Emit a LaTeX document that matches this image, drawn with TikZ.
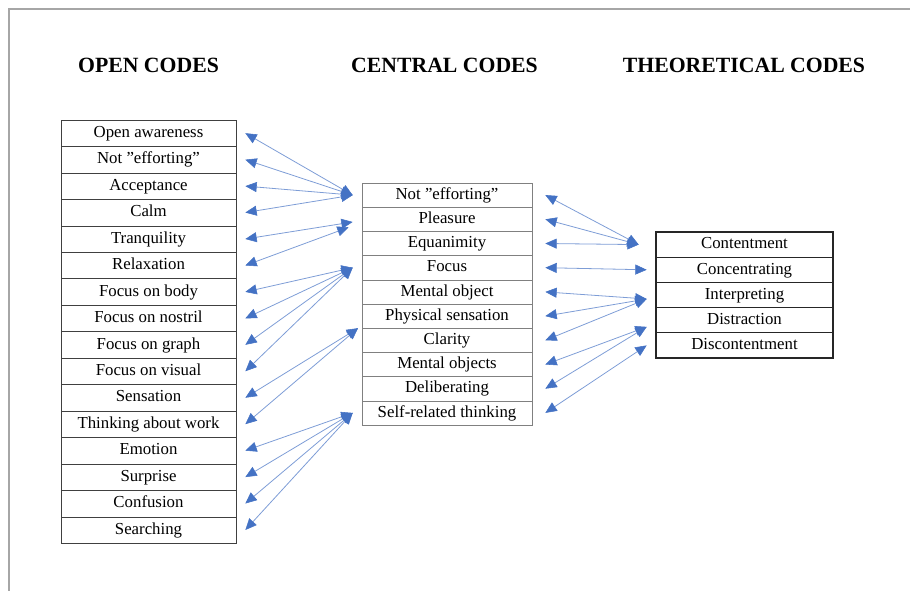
\documentclass[tikz,border=0pt]{standalone}
\usepackage{fontspec}
\setmainfont{Liberation Serif}
\usetikzlibrary{arrows.meta,positioning}

\definecolor{linkblue}{HTML}{4472C4}
\definecolor{linkline}{HTML}{7E9DD6}

\begin{document}
\begin{tikzpicture}[
x=0.75pt, y=-0.75pt,
codebox/.style={draw, outer sep=0pt, inner sep=0pt, text height=9.4pt, text depth=3pt,
  font=\fontsize{12.6}{15}\selectfont},
opencode/.style={codebox, draw=black!75, minimum width=131.25pt, minimum height=19.84pt},
centralcode/.style={codebox, draw=black!50, minimum width=127.5pt, minimum height=18.15pt},
theorycode/.style={codebox, draw=black!85, line width=0.9pt, minimum width=132.75pt, minimum height=18.9pt},
heading/.style={font=\bfseries\fontsize{16.3}{19}\selectfont},
link/.style={{Triangle[length=8.5pt,width=7.5pt,line width=0.4pt,color=linkblue,fill=linkblue]}-{Triangle[length=8.5pt,width=7.5pt,line width=0.4pt,color=linkblue,fill=linkblue]},
  draw=linkline, line width=0.6pt}
]
\useasboundingbox (0,0) rectangle (910,591);
\draw[black!35, line width=0.9pt] (910,9) -- (9,9) -- (9,591);

% headings
\node[heading] (h1) at (148.5,65) {OPEN CODES};
\node[heading] (h2) at (444.5,65) {CENTRAL CODES};
\node[heading] (h3) at (744,65) {THEORETICAL CODES};

% open codes
\node[opencode] (o1) at (148.5,133.2) {Open awareness};
\node[opencode, below=0pt of o1] (o2) {Not ”efforting”};
\node[opencode, below=0pt of o2] (o3) {Acceptance};
\node[opencode, below=0pt of o3] (o4) {Calm};
\node[opencode, below=0pt of o4] (o5) {Tranquility};
\node[opencode, below=0pt of o5] (o6) {Relaxation};
\node[opencode, below=0pt of o6] (o7) {Focus on body};
\node[opencode, below=0pt of o7] (o8) {Focus on nostril};
\node[opencode, below=0pt of o8] (o9) {Focus on graph};
\node[opencode, below=0pt of o9] (o10) {Focus on visual};
\node[opencode, below=0pt of o10] (o11) {Sensation};
\node[opencode, below=0pt of o11] (o12) {Thinking about work};
\node[opencode, below=0pt of o12] (o13) {Emotion};
\node[opencode, below=0pt of o13] (o14) {Surprise};
\node[opencode, below=0pt of o14] (o15) {Confusion};
\node[opencode, below=0pt of o15] (o16) {Searching};

% central codes
\node[centralcode] (c1) at (447,195.1) {Not ”efforting”};
\node[centralcode, below=0pt of c1] (c2) {Pleasure};
\node[centralcode, below=0pt of c2] (c3) {Equanimity};
\node[centralcode, below=0pt of c3] (c4) {Focus};
\node[centralcode, below=0pt of c4] (c5) {Mental object};
\node[centralcode, below=0pt of c5] (c6) {Physical sensation};
\node[centralcode, below=0pt of c6] (c7) {Clarity};
\node[centralcode, below=0pt of c7] (c8) {Mental objects};
\node[centralcode, below=0pt of c8] (c9) {Deliberating};
\node[centralcode, below=0pt of c9] (c10) {Self-related thinking};

% theoretical codes
\node[theorycode] (t1) at (744.5,244.6) {Contentment};
\node[theorycode, below=0pt of t1] (t2) {Concentrating};
\node[theorycode, below=0pt of t2] (t3) {Interpreting};
\node[theorycode, below=0pt of t3] (t4) {Distraction};
\node[theorycode, below=0pt of t4] (t5) {Discontentment};

% open -> central
\draw[link] ([xshift=7pt]o1.east) -- ([xshift=-7pt]c1.west);
\draw[link] ([xshift=7pt]o2.east) -- ([xshift=-7pt]c1.west);
\draw[link] ([xshift=7pt]o3.east) -- ([xshift=-7pt]c1.west);
\draw[link] ([xshift=7pt]o4.east) -- ([xshift=-7pt]c1.west);
\draw[link] ([xshift=7pt]o5.east) -- ([xshift=-7pt,yshift=-2pt]c2.west);
\draw[link] ([xshift=7pt]o6.east) -- ([xshift=-10pt,yshift=-6pt]c2.west);
\draw[link] ([xshift=7pt]o7.east) -- ([xshift=-7pt]c4.west);
\draw[link] ([xshift=7pt]o8.east) -- ([xshift=-7pt]c4.west);
\draw[link] ([xshift=7pt]o9.east) -- ([xshift=-7pt]c4.west);
\draw[link] ([xshift=7pt]o10.east) -- ([xshift=-7pt]c4.west);
\draw[link] ([xshift=7pt]o11.east) -- ([xshift=-3pt]c6.south west);
\draw[link] ([xshift=7pt]o12.east) -- ([xshift=-3pt]c6.south west);
\draw[link] ([xshift=7pt]o13.east) -- ([xshift=-7pt]c10.west);
\draw[link] ([xshift=7pt]o14.east) -- ([xshift=-7pt]c10.west);
\draw[link] ([xshift=7pt]o15.east) -- ([xshift=-7pt]c10.west);
\draw[link] ([xshift=7pt]o16.east) -- ([xshift=-7pt]c10.west);

% central -> theoretical
\draw[link] ([xshift=10pt]c1.east) -- ([xshift=-13pt]t1.west);
\draw[link] ([xshift=10pt]c2.east) -- ([xshift=-13pt]t1.west);
\draw[link] ([xshift=10pt]c3.east) -- ([xshift=-13pt]t1.west);
\draw[link] ([xshift=10pt]c4.east) -- ([xshift=-7pt]t2.west);
\draw[link] ([xshift=10pt]c5.east) -- ([xshift=-7pt,yshift=-3pt]t3.west);
\draw[link] ([xshift=10pt]c6.east) -- ([xshift=-7pt,yshift=-3pt]t3.west);
\draw[link] ([xshift=10pt]c7.east) -- ([xshift=-7pt,yshift=-3pt]t3.west);
\draw[link] ([xshift=10pt]c8.east) -- ([xshift=-7pt,yshift=-5pt]t4.west);
\draw[link] ([xshift=10pt]c9.east) -- ([xshift=-7pt,yshift=-5pt]t4.west);
\draw[link] ([xshift=10pt]c10.east) -- ([xshift=-7pt]t5.west);
\end{tikzpicture}
\end{document}
